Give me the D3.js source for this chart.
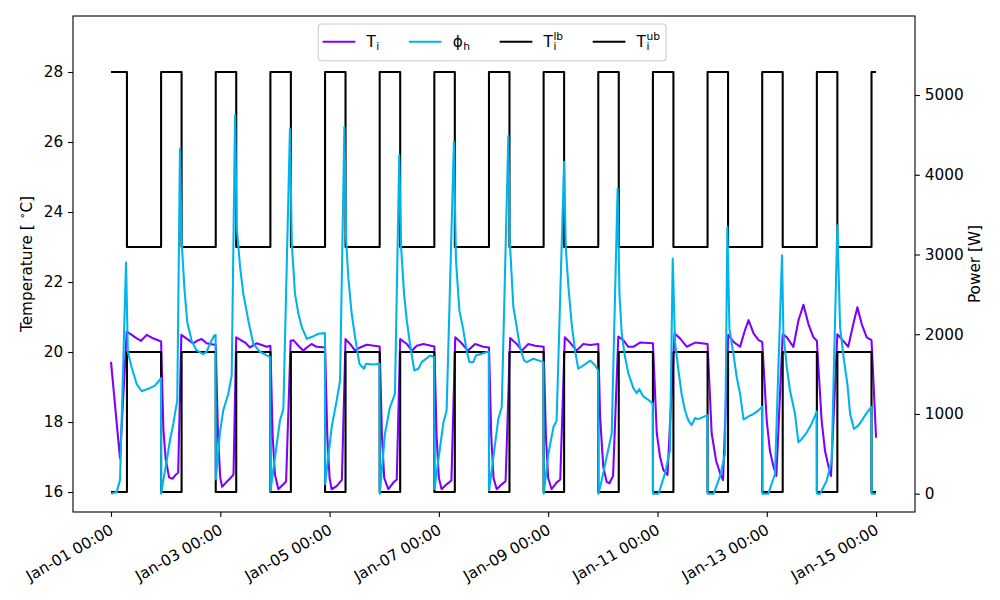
<!DOCTYPE html>
<html>
<head>
<meta charset="utf-8">
<script src="https://cdn.jsdelivr.net/npm/d3@7"></script>
<style>
  body { margin: 0; background: #fff; }
  svg { font-family: "DejaVu Sans", sans-serif; font-size: 15.3px; }
</style>
</head>
<body>
<svg id="chart" width="1000" height="600"></svg>
<script>
// indoor temperature T_i [degC] as [hours since Jan-01 00:00, value]
var tiData = [
  [0,19.72],[3.95,16.96],[6.9,20.58],[9.1,20.49],[11.3,20.39],[13.2,20.32],[15.7,20.49],[17.9,20.41],[22,20.3],
  [23,17.8],[24,16.95],[25.5,16.42],[27,16.38],[28.5,16.5],[29.5,16.55],[30.9,20.49],
  [33.1,20.39],[36.1,20.25],[38.3,20.34],[39.8,20.37],[42,20.25],[46,20.2],
  [47,17.6],[48,16.4],[48.8,16.15],[50.5,16.27],[52.5,16.4],[53.8,16.5],[55,20.42],
  [58.9,20.27],[61,20.13],[64,20.25],[68.4,20.15],[70,20.18],
  [71,17.6],[72,16.5],[73.5,16.08],[75.7,16.22],[76.9,16.3],[78.9,20.32],[80.1,20.34],
  [82.3,20.18],[84.5,20.04],[86,20.13],[88.1,20.23],[90.3,20.15],[94,20.13],
  [95,17.6],[96,16.4],[96.9,16.08],[99.1,16.17],[101.4,16.35],[103,20.37],
  [105,20.23],[107.2,20.04],[109.4,20.13],[112.3,20.21],[118,20.16],
  [119,17.6],[120,16.4],[121.8,16.08],[124,16.27],[125.5,16.36],[127,20.37],
  [129.9,20.23],[132.1,20.04],[134.3,20.18],[137.2,20.23],[142,20.16],
  [143,17.6],[144,16.4],[145.2,16.08],[147.4,16.22],[149.5,16.33],[151.2,20.42],
  [154,20.25],[156.7,20.04],[159.9,20.23],[163.5,20.15],[166,20.13],
  [167,17.6],[168,16.4],[169.4,16.08],[171.6,16.22],[173.3,16.31],[175.3,20.4],
  [178.2,20.23],[180.4,20.04],[183.3,20.23],[186.2,20.18],[190,20.15],
  [191,17.6],[192,16.4],[193.5,16.08],[195.7,16.27],[197.3,16.36],[199.3,20.42],
  [201.6,20.27],[204.5,20.04],[207.4,20.23],[210.4,20.2],[214,20.23],
  [214.8,18.15],[216.2,16.72],[217.7,16.29],[218.9,16.25],[220.5,16.46],[222.8,20.44],
  [225,20.34],[227.2,20.15],[229.4,20.15],[232.3,20.27],[238,20.25],
  [239.7,17.68],[241.1,17.01],[242.6,16.63],[244.4,16.49],[247.5,20.53],
  [249.9,20.39],[252.9,20.15],[256.5,20.27],[262,20.23],
  [263.8,17.68],[265.7,16.91],[267.5,16.53],[268.8,16.34],[271.1,20.49],
  [273.4,20.29],[276.3,20.15],[278.2,20.58],[280,20.91],[282.2,20.53],[284.4,20.34],[286,20.29],
  [288,18.03],[289.4,17.17],[290.9,16.74],[292.2,16.46],[295,20.51],
  [296.8,20.42],[299.7,20.15],[301.9,20.9],[304.1,21.35],[306.3,20.8],[308.5,20.42],[310,20.32],
  [312.1,18.03],[313.6,17.17],[315.1,16.74],[316.2,16.46],[319,20.51],
  [320.9,20.37],[323.8,20.15],[326,20.8],[327.8,21.28],[329.7,20.8],[331.9,20.42],[334,20.34],[336,17.55]
];

// heating power phi_h [W]
var phiData = [
  [0,0],[2.5,20],[3.95,170],[6.6,2900],[7.4,1780],[9.1,1580],[11.3,1375],[13.5,1285],[14.9,1300],[16.4,1315],[19.3,1355],[21.2,1420],[21.95,1450],
  [22.05,0],[23,170],[24.5,420],[25.9,670],[27.4,880],[28.1,1005],[29.1,1170],[30.3,4330],
  [31,3178],[32.3,2550],[33.5,2150],[35.4,1920],[37.5,1800],[40.5,1750],[42,1782],[43.9,1907],[45.4,1985],[45.95,1990],
  [46.05,180],[47.9,780],[49.3,1045],[51.5,1250],[53,1480],[54.5,4749],
  [55.2,3345],[56.7,2843],[58.1,2509],[60.3,2173],[62.5,1880],[65.4,1780],[68.4,1734],[69.95,1712],
  [70.05,40],[74.2,917],[75.7,1064],[78.6,4581],
  [79.4,3137],[80.8,2509],[82.3,2257],[83.8,2089],[86,1943],[88.1,1964],[91.1,2006],[93.95,2014],
  [94.05,120],[96.9,833],[99.1,1168],[100.6,1420],[102.5,4602],
  [103.2,3220],[104.2,2717],[105.7,2257],[107.2,1964],[109.1,1629],[111.1,1567],[112,1629],[115.2,1620],[117.95,1629],
  [118.05,0],[120.3,750],[122.5,1084],[124.7,1252],[126.6,4246],
  [127.4,3094],[128.7,2509],[129.9,2173],[131.3,1880],[133.2,1545],[135,1567],[136.5,1650],[140.1,1734],[141.95,1712],
  [142.05,59],[146,896],[147.4,1043],[150.6,4413],
  [151.5,2927],[153,2299],[154.5,2089],[156.2,1796],[157.4,1650],[159.1,1650],[160.3,1734],[162.8,1755],[165.95,1784],
  [166.05,40],[170.1,938],[171.6,1084],[174.5,4485],
  [175.2,3137],[176.7,2341],[178.2,2089],[179.6,1838],[181.4,1671],[182.6,1650],[185.5,1692],[189.95,1650],
  [190.05,0],[192.1,499],[194.3,833],[195.7,917],[199,4162],
  [199.7,3094],[200.9,2592],[202.3,2132],[203.8,1796],[205.2,1567],[207.4,1608],[210.4,1670],[212.6,1612],[213.95,1545],
  [214.05,0],[215.5,170],[217.7,463],[219.9,755],[222.5,3828],
  [223.3,2509],[224.3,2012],[225.7,1720],[227.2,1512],[229.4,1324],[230.9,1262],[232,1312],[233.8,1220],[236,1178],[237.95,1130],
  [238.05,0],[240.5,0],[243.3,255],[245.5,540],[246.7,2948],
  [247.7,1900],[249.2,1550],[250.6,1250],[252.1,1043],[253.6,917],[255,860],[256.5,950],[258,935],[261.95,985],
  [262.05,0],[264.7,0],[267.5,220],[269.7,503],[270.7,3345],
  [271.6,2070],[273.4,1740],[274.8,1461],[276.3,1252],[277.8,930],[280,970],[282.2,1000],[284.4,1045],[285.95,1090],
  [286.05,0],[288.7,0],[291.6,247],[294.7,2990],
  [295.3,2006],[296.8,1587],[298.2,1294],[300.4,1001],[301.9,645],[303.4,687],[305.6,770],[307.7,876],[309.95,1030],
  [310.05,0],[311.4,0],[314.3,163],[316.5,415],[319,3367],
  [320.2,2089],[321.9,1671],[323.4,1378],[324.6,1001],[326.3,813],[328.2,854],[329.7,917],[331.6,1001],[333.95,1090],
  [334.05,0],[336,0]
];

// comfort bounds: daily schedule (occupied 07:00-22:00)
var scheduleHours = [0, 7, 22];
var lowerBound = [16, 20, 16];
var upperBound = [28, 23, 28];
var nDays = 14;

var tempTicks = [16, 18, 20, 22, 24, 26, 28];
var powerTicks = [0, 1000, 2000, 3000, 4000, 5000];

var lbData = [], ubData = [];
for (var d = 0; d < nDays; d++) {
  scheduleHours.forEach(function(h, i) {
    lbData.push([d * 24 + h, lowerBound[i]]);
    ubData.push([d * 24 + h, upperBound[i]]);
  });
}
lbData.push([nDays * 24, lowerBound[2]]);
ubData.push([nDays * 24, upperBound[2]]);

var svg = d3.select("#chart");
var plotL = 73, plotR = 915, plotT = 16, plotB = 512;

var t0 = new Date(2021, 0, 1);
function toDate(h) { return new Date(t0.getTime() + h * 3600e3); }

var x = d3.scaleTime().domain([toDate(-16.69), toDate(353.1)]).range([plotL, plotR]);
var yT = d3.scaleLinear().domain([15.43, 29.6]).range([plotB, plotT]);
var yP = d3.scaleLinear().domain([-229.5, 5991]).range([plotB, plotT]);

var lineT = d3.line()
  .x(function(d) { return x(toDate(d[0])); })
  .y(function(d) { return yT(d[1]); });
var stepT = d3.line()
  .curve(d3.curveStepAfter)
  .x(function(d) { return x(toDate(d[0])); })
  .y(function(d) { return yT(d[1]); });
var lineP = d3.line()
  .x(function(d) { return x(toDate(d[0])); })
  .y(function(d) { return yP(d[1]); });

var colTi = "#7f00ff", colPhi = "#00b4eb";

function drawPath(data, gen, color) {
  svg.append("path")
    .datum(data)
    .attr("d", gen)
    .attr("fill", "none")
    .attr("stroke", color)
    .attr("stroke-width", 2.08)
    .attr("stroke-linejoin", "round");
}
drawPath(tiData, lineT, colTi);
drawPath(lbData, stepT, "#000");
drawPath(ubData, stepT, "#000");
drawPath(phiData, lineP, colPhi);

// frame
svg.append("rect")
  .attr("x", plotL).attr("y", plotT)
  .attr("width", plotR - plotL).attr("height", plotB - plotT)
  .attr("fill", "none").attr("stroke", "#000").attr("stroke-width", 1.1);

function styleAxis(g) {
  g.select(".domain").remove();
  g.selectAll(".tick line").attr("stroke", "#000").attr("stroke-width", 1.1);
  g.selectAll(".tick text").attr("fill", "#000").style("font-size", "15.3px")
    .style("font-family", "DejaVu Sans, sans-serif");
}

var xAxis = svg.append("g")
  .attr("transform", "translate(0," + plotB + ")")
  .call(d3.axisBottom(x).ticks(d3.timeDay.every(2))
    .tickFormat(d3.timeFormat("%b-%d %H:%M")).tickSize(4.9).tickPadding(4.9));
styleAxis(xAxis);
xAxis.selectAll(".tick text")
  .attr("text-anchor", "end")
  .attr("y", null).attr("dy", null)
  .attr("transform", "translate(3,21) rotate(-30)");

var yAxisL = svg.append("g")
  .attr("transform", "translate(" + plotL + ",0)")
  .call(d3.axisLeft(yT).tickValues(tempTicks).tickSize(4.9).tickPadding(4.9));
styleAxis(yAxisL);

var yAxisR = svg.append("g")
  .attr("transform", "translate(" + plotR + ",0)")
  .call(d3.axisRight(yP).tickValues(powerTicks).tickFormat(d3.format("d")).tickSize(4.9).tickPadding(4.9));
styleAxis(yAxisR);

// axis titles
var tl = svg.append("text")
  .attr("transform", "translate(32," + ((plotT + plotB) / 2) + ") rotate(-90)")
  .attr("text-anchor", "middle");
tl.append("tspan").text("Temperature [ ");
tl.append("tspan").text("\u2218").attr("font-size", "11px").attr("dy", "-6");
tl.append("tspan").text("C]").attr("dy", "6");

svg.append("text")
  .attr("transform", "translate(980," + ((plotT + plotB) / 2) + ") rotate(-90)")
  .attr("text-anchor", "middle")
  .text("Power [W]");

// legend
var legendItems = [
  { main: "T", sub: "i", sup: "", color: colTi },
  { main: "\u03d5", sub: "h", sup: "", color: colPhi },
  { main: "T", sub: "i", sup: "lb", color: "#000" },
  { main: "T", sub: "i", sup: "ub", color: "#000" }
];
var leg = svg.append("g");
var legBox = leg.append("rect")
  .attr("fill", "#fff").attr("fill-opacity", 0.8)
  .attr("stroke", "#ccc").attr("stroke-width", 1.1).attr("rx", 3);
var lx = 323.7, ly = 41.7, base = 46.7;
legendItems.forEach(function(it) {
  leg.append("line")
    .attr("x1", lx).attr("x2", lx + 30.6).attr("y1", ly).attr("y2", ly)
    .attr("stroke", it.color).attr("stroke-width", 2.08).attr("stroke-linecap", "square");
  var tx = lx + 30.6 + 12.2;
  var m = leg.append("text").attr("x", tx).attr("y", base).text(it.main);
  var w = m.node().getComputedTextLength();
  var sx = tx + w + 0.5;
  var s = leg.append("text").attr("x", sx).attr("y", base + 3.5)
    .style("font-size", "10.7px").text(it.sub);
  var ew = s.node().getComputedTextLength();
  if (it.sup) {
    var p = leg.append("text").attr("x", sx).attr("y", base - 7)
      .style("font-size", "10.7px").text(it.sup);
    ew = Math.max(ew, p.node().getComputedTextLength());
  }
  lx = sx + ew + 30.6;
});
legBox.attr("x", 318.3).attr("y", 24)
  .attr("width", lx - 30.6 + 6.1 - 318.3).attr("height", 36.7);
</script>
</body>
</html>
